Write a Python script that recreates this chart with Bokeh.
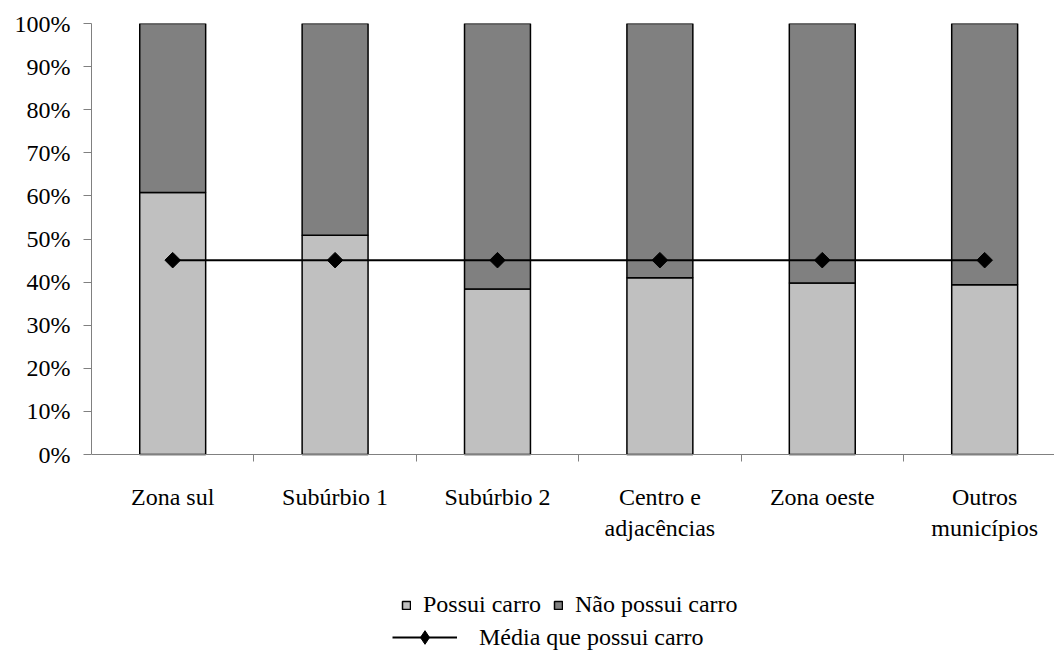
import numpy as np
from bokeh.plotting import figure
from bokeh.models import (ColumnDataSource, FixedTicker, PrintfTickFormatter,
                          Legend, LegendItem, Range1d)
from bokeh.embed import file_html
from bokeh.resources import INLINE

# Share of households with / without a car, by region
categories = ["Zona sul", "Subúrbio 1", "Subúrbio 2",
              "Centro e\nadjacências", "Zona oeste", "Outros\nmunicípios"]
possui_carro = [60.8, 50.9, 38.4, 41.0, 39.8, 39.4]
nao_possui_carro = [39.2, 49.1, 61.6, 59.0, 60.2, 60.6]
media_possui = [45.1, 45.1, 45.1, 45.1, 45.1, 45.1]
y_ticks = [0, 10, 20, 30, 40, 50, 60, 70, 80, 90, 100]

FONT = "Liberation Serif"
FONT_SIZE = "24px"
AXIS_GREY = "#808080"

x_centers = [i + 0.5 for i in range(len(categories))]
x_bounds = [i + 1 for i in range(len(categories))]

src = ColumnDataSource(dict(
    x=x_centers,
    possui=possui_carro,
    total=[a + b for a, b in zip(possui_carro, nao_possui_carro)],
    media=media_possui,
))

# The frame runs down to the bottom of the canvas so the legends below the
# category labels sit inside it; the value axis itself is bounded to 0-100 %.
p = figure(width=1054, height=655, output_backend="svg", toolbar_location=None,
           x_range=Range1d(0, 5.93), y_range=Range1d(-46.6, 100),
           min_border_left=91, min_border_right=0,
           min_border_top=23, min_border_bottom=0)
p.outline_line_color = None
p.xgrid.visible = False
p.ygrid.visible = False
p.background_fill_color = "white"

r_sim = p.vbar(x="x", width=0.406, bottom=0, top="possui", source=src,
               fill_color="#C0C0C0", line_color="black", line_width=1.5)
r_nao = p.vbar(x="x", width=0.406, bottom="possui", top="total", source=src,
               fill_color="#808080", line_color="black", line_width=1.5)
r_line = p.line(x="x", y="media", source=src, line_color="black", line_width=2)
# diamond used for the legend swatch (legend markers are never rotated);
# on the chart it sits fully under the rotated-square markers below
r_key = p.scatter(x="x", y="media", source=src, marker="diamond", size=12,
                  fill_color="black", line_color="black")
r_pts = p.scatter(x="x", y="media", source=src, marker="square",
                  angle=np.pi / 4, size=11, fill_color="black", line_color="black")

# category axis pinned at 0 %: labels centred on bars, ticks between categories
p.xaxis.fixed_location = 0
p.xaxis.ticker = FixedTicker(ticks=x_centers, minor_ticks=x_bounds)
p.xaxis.major_label_overrides = {xc: c for xc, c in zip(x_centers, categories)}
p.xaxis.major_tick_line_color = None
p.xaxis.major_tick_out = 0
p.xaxis.major_tick_in = 0
p.xaxis.minor_tick_out = 7
p.xaxis.minor_tick_in = 0
p.xaxis.minor_tick_line_color = AXIS_GREY
p.xaxis.axis_line_color = AXIS_GREY
p.xaxis.major_label_standoff = 22

p.yaxis.bounds = (0, 100)
p.yaxis.ticker = FixedTicker(ticks=y_ticks)
p.yaxis.formatter = PrintfTickFormatter(format="%d%%")
p.yaxis.major_tick_out = 8
p.yaxis.major_tick_in = 0
p.yaxis.major_tick_line_color = AXIS_GREY
p.yaxis.minor_tick_line_color = None
p.yaxis.axis_line_color = AXIS_GREY
p.yaxis.major_label_standoff = 13

for ax in (p.xaxis[0], p.yaxis[0]):
    ax.major_label_text_font = FONT
    ax.major_label_text_font_size = FONT_SIZE
    ax.major_label_text_color = "black"


def styled_legend(items, location, **kw):
    return Legend(items=items, location=location, orientation="horizontal",
                  border_line_color=None, background_fill_alpha=0,
                  padding=0, margin=0,
                  label_text_font=FONT, label_text_font_size=FONT_SIZE,
                  label_text_color="black", **kw)


legend_bars = styled_legend(
    [LegendItem(label="Possui carro", renderers=[r_sim]),
     LegendItem(label="Não possui carro", renderers=[r_nao])],
    (310, 37), spacing=12, label_standoff=12, glyph_width=10, glyph_height=10)
legend_media = styled_legend(
    [LegendItem(label="Média que possui carro", renderers=[r_line, r_key])],
    (301, 1), label_standoff=22, glyph_width=65, glyph_height=34)

p.add_layout(legend_bars)
p.add_layout(legend_media)

open("out.html", "w").write(file_html(p, INLINE))
